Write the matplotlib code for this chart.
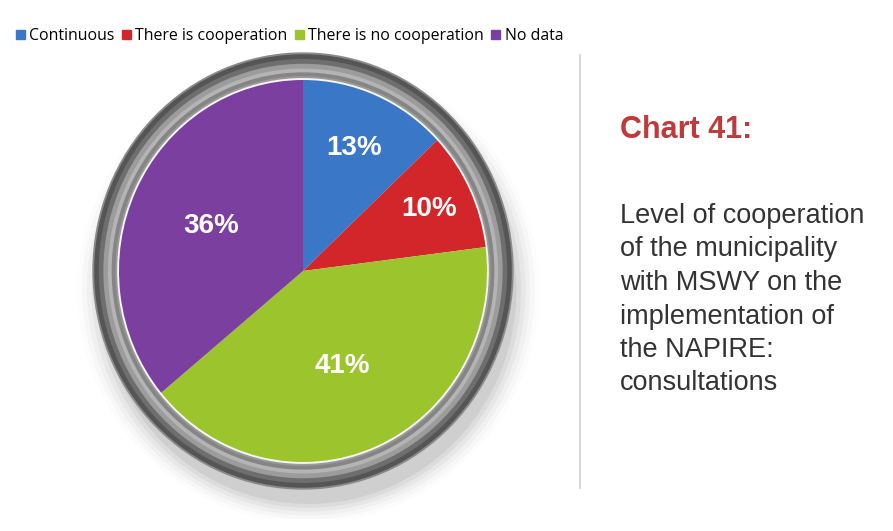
import numpy as np
import matplotlib.pyplot as plt
from matplotlib.patches import Circle, Ellipse

categories = ['Continuous', 'There is cooperation', 'There is no cooperation', 'No data']
values = [13, 10, 41, 36]
colors = ['#3a77c6', '#d3262a', '#9cc52d', '#7b3f9f']

title = 'Chart 41:'
description = ['Level of cooperation', 'of the municipality', 'with MSWY on the',
               'implementation of', 'the NAPIRE:', 'consultations']

W, H = 893, 531
fig = plt.figure(figsize=(W / 100, H / 100), dpi=100)

# page axes in pixel units (y up)
ax = fig.add_axes([0, 0, 1, 1])
ax.set_xlim(0, W)
ax.set_ylim(0, H)
ax.axis('off')

# pie axes: a touch taller than wide, like the reference
cx, cy = 303, H - 271
rx, ry = 184, 191
lim = 1.3
pw, ph = 2 * lim * rx, 2 * lim * ry
pax = fig.add_axes([(cx - pw / 2) / W, (cy - ph / 2) / H, pw / W, ph / H])

# shadow under the dial
for i, a in enumerate(np.linspace(0.05, 0.012, 6)):
    pax.add_patch(Ellipse((0.03, -0.1), 2.26 + i * 0.05, 2.24 + i * 0.04,
                          color='#000000', alpha=a, lw=0, zorder=0))

# silver rim
rim = [(1.145, '#8a8a8a'), (1.135, '#555555'), (1.11, '#6e6e6e'), (1.085, '#9c9c9c'),
       (1.06, '#b4b4b4'), (1.04, '#858585'), (1.02, '#9a9a9a'), (1.01, '#f6f6f6')]
for rr, c in rim:
    pax.add_patch(Circle((0, 0), rr, color=c, lw=0, zorder=1))

wedges, _ = pax.pie(values, colors=colors, startangle=90, counterclock=False,
                    radius=1, frame=True, wedgeprops=dict(lw=0, zorder=2))
pax.set_xlim(-lim, lim)
pax.set_ylim(-lim, lim)
pax.set_aspect('auto')
pax.axis('off')

label_dist = [0.70, 0.76, 0.54, 0.55]
for w, v, d in zip(wedges, values, label_dist):
    ang = np.deg2rad((w.theta1 + w.theta2) / 2)
    pax.text(d * np.cos(ang), d * np.sin(ang), f'{v}%',
             ha='center', va='center', color='white', fontsize=20,
             fontweight='bold', family='Liberation Sans', zorder=3)

# legend
handles = [plt.Rectangle((0, 0), 1, 1, color=c) for c in colors]
fig.legend(handles, categories, loc='upper left', bbox_to_anchor=(0.002, 0.974),
           ncol=4, frameon=False, handlelength=0.55, handleheight=0.55,
           handletextpad=0.3, columnspacing=0.45,
           prop={'family': 'Open Sans', 'size': 11.4})

# divider
ax.plot([580, 580], [H - 55, H - 488], color='#d0d0d0', lw=1.2)

ax.text(620, H - 130, title, color='#c03a3c', fontsize=22, fontweight='bold',
        family='Liberation Sans', va='center', ha='left')
for i, line in enumerate(description):
    ax.text(620, H - 216 - i * 33.5, line, color='#333333', fontsize=19.5,
            family='Liberation Sans', va='center', ha='left')

fig.savefig('out.png', dpi=100)
